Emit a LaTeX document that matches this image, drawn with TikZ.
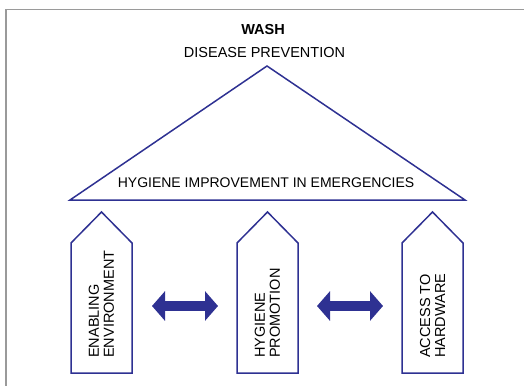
\documentclass[tikz,border=0pt]{standalone}
\usepackage{fontspec}
\setmainfont{Liberation Sans}
\usetikzlibrary{arrows.meta}
\definecolor{washblue}{HTML}{2E3192}
\definecolor{framegray}{HTML}{9A9A9A}
\tikzset{
  outline/.style={draw=washblue, line width=1.5pt, line join=miter},
  label/.style={inner sep=0pt, font=\fontsize{14.5}{15}\selectfont},
  pillartext/.style={label, rotate=90, anchor=west, align=left},
  dblarrow/.style={washblue, line width=10pt,
    {Triangle[length=13pt,width=29pt]}-{Triangle[length=13pt,width=29pt]}}
}
\begin{document}
\begin{tikzpicture}[x=1pt,y=-1pt]
      \useasboundingbox (0,0) rectangle (524,385);
      % frame
      \draw[framegray, line width=1.5pt] (6,386) -- (6,9.5) -- (525,9.5);
      % roof
      \draw[outline] (70,200) -- (267,66) -- (465,200) -- cycle;
      \node[label, font=\bfseries\fontsize{14.5}{15}\selectfont] (wash) at (263,30) {WASH};
      \node[label] (prev) at (264.5,52.5) {DISEASE PREVENTION};
      \node[label, font=\fontsize{14}{15}\selectfont] (hie) at (266,182.5) {HYGIENE IMPROVEMENT IN EMERGENCIES};
      % pillars
      \foreach \x/\n in {101.5/env, 267.5/promo, 432.5/hw} {
        \draw[outline] (\x-30.5,373) -- (\x-30.5,243) -- (\x,212)
          -- (\x+30.5,243) -- (\x+30.5,373) -- cycle;
        \coordinate (\n L) at (\x-30.5,306);
        \coordinate (\n R) at (\x+30.5,306);
      }
      \node[pillartext] (env) at (101.5,358) {ENABLING\\ENVIRONMENT};
      \node[pillartext] (promo) at (267.5,358) {HYGIENE\\PROMOTION};
      \node[pillartext] (hw) at (432.5,358) {ACCESS TO\\HARDWARE};
      % links
      \draw[dblarrow, shorten <=20pt, shorten >=19pt] (envR) -- (promoL);
      \draw[dblarrow, shorten <=19pt, shorten >=19pt] (promoR) -- (hwL);
    \end{tikzpicture}
\end{document}
